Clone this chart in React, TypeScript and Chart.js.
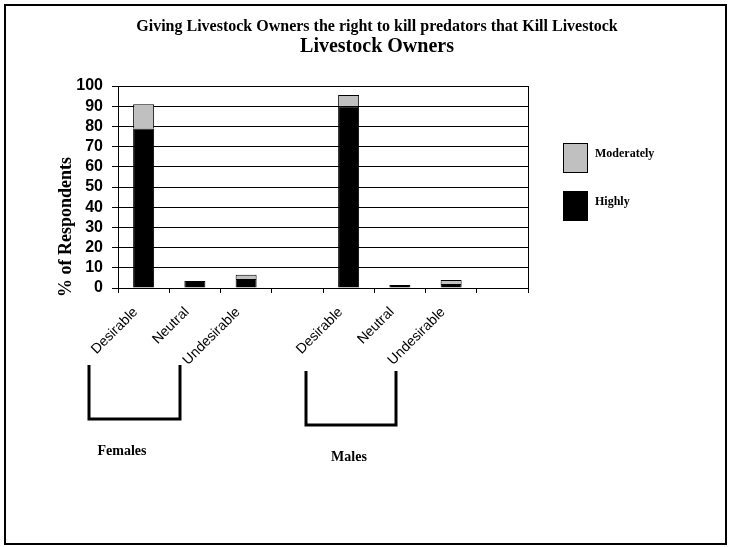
import React, { useEffect, useRef } from "react";
import { Chart, registerables } from "chart.js";

Chart.register(...registerables);

// ---- data ----
const categories = ["Desirable", "Neutral", "Undesirable", "", "Desirable", "Neutral", "Undesirable", ""];
const highly: (number | null)[] = [79, 3.5, 4.5, null, 90, 1.5, 2, null];
const moderately: (number | null)[] = [12, null, 2, null, 5.5, null, 2, null];
const yTickValues = [0, 10, 20, 30, 40, 50, 60, 70, 80, 90, 100];
const titleLine1 = "Giving Livestock Owners the right to kill predators that Kill Livestock";
const titleLine2 = "Livestock Owners";
const yAxisTitle = "% of Respondents";
const groupLabels = ["Females", "Males"];
const seriesLabels = ["Highly", "Moderately"];
const seriesColors = ["#000000", "#c0c0c0"];

const SERIF = '"Times New Roman", "Liberation Serif", serif';
const SANS = 'Arial, "Liberation Sans", sans-serif';

const decorPlugin = {
  id: "decor",
  afterDraw(chart: any) {
    const ctx = chart.ctx as CanvasRenderingContext2D;
    const area = chart.chartArea;
    ctx.save();
    // outer border
    ctx.strokeStyle = "#000";
    ctx.lineWidth = 2;
    ctx.strokeRect(5, 5, 721, 539);

    // right border of plot
    ctx.lineWidth = 1;
    ctx.beginPath();
    ctx.moveTo(Math.round(area.right) + 0.5, area.top);
    ctx.lineTo(Math.round(area.right) + 0.5, area.bottom);
    ctx.stroke();

    // titles
    ctx.fillStyle = "#000";
    ctx.textAlign = "center";
    ctx.textBaseline = "alphabetic";
    ctx.font = `bold 16px ${SERIF}`;
    ctx.fillText(titleLine1, 377, 31);
    ctx.font = `bold 20px ${SERIF}`;
    ctx.fillText(titleLine2, 377, 52);

    // y axis title
    ctx.save();
    ctx.translate(66, 227);
    ctx.rotate(-Math.PI / 2);
    ctx.font = `bold 18px ${SERIF}`;
    ctx.textBaseline = "middle";
    ctx.fillText(yAxisTitle, 0, 0);
    ctx.restore();

    // legend (top is last dataset)
    const ds = chart.data.datasets;
    const legendItems = [ds[1], ds[0]];
    legendItems.forEach((d: any, i: number) => {
      const y = 143 + i * 48;
      ctx.fillStyle = d.backgroundColor;
      ctx.fillRect(563, y, 25, 30);
      ctx.strokeStyle = "#000";
      ctx.lineWidth = 1;
      ctx.strokeRect(563.5, y + 0.5, 24, 29);
      ctx.fillStyle = "#000";
      ctx.font = `bold 12px ${SERIF}`;
      ctx.textAlign = "left";
      ctx.textBaseline = "middle";
      ctx.fillText(d.label, 595, y + 11);
    });

    // group brackets
    ctx.strokeStyle = "#000";
    ctx.lineWidth = 3;
    ctx.beginPath();
    ctx.moveTo(89, 365);
    ctx.lineTo(89, 419);
    ctx.lineTo(180, 419);
    ctx.lineTo(180, 365);
    ctx.stroke();
    ctx.beginPath();
    ctx.moveTo(306, 371);
    ctx.lineTo(306, 425);
    ctx.lineTo(396, 425);
    ctx.lineTo(396, 371);
    ctx.stroke();

    ctx.fillStyle = "#000";
    ctx.font = `bold 14px ${SERIF}`;
    ctx.textAlign = "center";
    ctx.textBaseline = "middle";
    ctx.fillText(groupLabels[0], 122, 451);
    ctx.fillText(groupLabels[1], 349, 457);
    ctx.restore();
  },
};

export default function App() {
  const ref = useRef<HTMLCanvasElement>(null);
  useEffect(() => {
    const canvas = ref.current!;
    const chart = new Chart(canvas, {
      type: "bar",
      data: {
        labels: categories,
        datasets: [
          {
            label: seriesLabels[0],
            data: highly,
            backgroundColor: seriesColors[0],
            borderColor: "#000",
            borderWidth: 1,
            barPercentage: 0.41,
            categoryPercentage: 1,
          },
          {
            label: seriesLabels[1],
            data: moderately,
            backgroundColor: seriesColors[1],
            borderColor: "#000",
            borderWidth: 1,
            barPercentage: 0.41,
            categoryPercentage: 1,
          },
        ],
      },
      options: {
        responsive: false,
        animation: false,
        devicePixelRatio: 1,
        layout: { padding: { left: 0, top: 86, right: 201, bottom: 0 } },
        plugins: {
          legend: { display: false },
          title: { display: false },
          tooltip: { enabled: false },
        },
        scales: {
          x: {
            stacked: true,
            offset: true,
            grid: {
              offset: true,
              drawOnChartArea: false,
              drawTicks: true,
              tickLength: 5,
              color: "#000",
            },
            border: { color: "#000", width: 1 },
            ticks: {
              autoSkip: false,
              minRotation: 45,
              maxRotation: 45,
              padding: 11,
              labelOffset: -8,
              color: "#000",
              font: { family: SANS, size: 14 },
            },
            afterFit: (scale: any) => {
              scale.height = 547 - 288;
            },
          },
          y: {
            stacked: true,
            min: 0,
            max: 100,
            grid: { color: "#000", tickLength: 6, drawTicks: true },
            border: { color: "#000", width: 1 },
            ticks: {
              autoSkip: false,
              padding: 9,
              color: "#000",
              font: { family: SANS, size: 16, weight: "bold" },
            },
            afterBuildTicks: (scale: any) => {
              scale.ticks = yTickValues.map((v) => ({ value: v }));
            },
            afterFit: (scale: any) => {
              scale.width = 118;
            },
          },
        },
      },
      plugins: [decorPlugin],
    });
    return () => chart.destroy();
  }, []);
  return (
    <div style={{ position: "absolute", left: 0, top: 0, width: 729, height: 547, background: "#fff" }}>
      <canvas ref={ref} width={729} height={547} style={{ display: "block" }} />
    </div>
  );
}
